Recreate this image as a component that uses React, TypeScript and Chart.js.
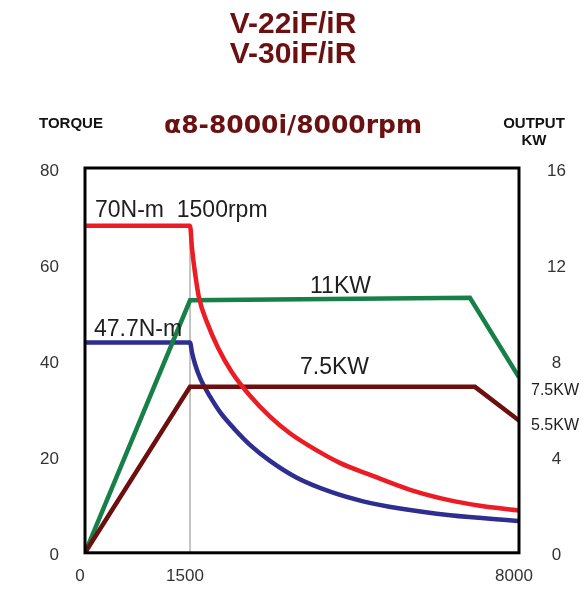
import React, { useEffect, useRef } from 'react';
import { Chart, registerables, LinearScale } from 'chart.js';

Chart.register(...registerables);

// ---------------- data ----------------
const TITLE_LINES = ['V-22iF/iR', 'V-30iF/iR'];
const SUBTITLE = 'α8-8000i/8000rpm';
const LEFT_AXIS_TITLE = 'TORQUE';
const RIGHT_AXIS_TITLE = ['OUTPUT', 'KW'];

const X_TICKS = [0, 1500, 8000];
const TORQUE_MAX = 80;
const TORQUE_STEP = 20;
const KW_MAX = 16;
const KW_STEP = 4;

// max torque (red)
const RED_RPM = [0, 1500, 1540, 1600, 1680, 1840, 2050, 2330, 2690, 3080, 3480, 3970, 4460, 5060, 5850, 6640, 7230, 8000];
const RED_TORQUE = [68, 68, 63.2, 58.1, 52.9, 47.8, 42.7, 37.5, 32.6, 28.3, 24.8, 21.5, 18.7, 16.2, 13.1, 10.9, 9.8, 8.8];

// continuous torque (blue)
const BLUE_RPM = [0, 1500, 1540, 1600, 1700, 1900, 2090, 2390, 2690, 3080, 3610, 4270, 4920, 5650, 6640, 8000];
const BLUE_TORQUE = [43.7, 43.7, 41.6, 39.2, 36.3, 32.4, 29.3, 25.6, 22.4, 19.1, 15.6, 12.7, 10.7, 9.2, 7.8, 6.6];

// output 11KW (green)
const GREEN_RPM = [0, 1500, 7030, 8000];
const GREEN_KW = [0, 10.5, 10.6, 7.3];

// output 7.5KW (maroon)
const MAROON_RPM = [0, 1500, 7130, 8000];
const MAROON_KW = [0, 6.9, 6.9, 5.5];

// base speed marker
const BASE_RPM = [1500, 1500];
const BASE_TORQUE = [0, 68];

const NOTE_TORQUE_MAX = '70N-m  1500rpm';
const NOTE_TORQUE_CONT = '47.7N-m';
const NOTE_KW_HIGH = '11KW';
const NOTE_KW_LOW = '7.5KW';
const NOTE_RIGHT = ['7.5KW', '5.5KW'];

// ---------------- segmented x scale ----------------
const SEG_VALUES = [0, 1500, 8000];
const SEG_FRACS = [0, 0.242, 1];

function valueToFrac(v: number): number {
  let i = 0;
  if (v >= SEG_VALUES[SEG_VALUES.length - 2]) i = SEG_VALUES.length - 2;
  else {
    while (i < SEG_VALUES.length - 2 && v > SEG_VALUES[i + 1]) i++;
  }
  const t = (v - SEG_VALUES[i]) / (SEG_VALUES[i + 1] - SEG_VALUES[i]);
  return SEG_FRACS[i] + t * (SEG_FRACS[i + 1] - SEG_FRACS[i]);
}
function fracToValue(f: number): number {
  let i = 0;
  if (f >= SEG_FRACS[SEG_FRACS.length - 2]) i = SEG_FRACS.length - 2;
  else {
    while (i < SEG_FRACS.length - 2 && f > SEG_FRACS[i + 1]) i++;
  }
  const t = (f - SEG_FRACS[i]) / (SEG_FRACS[i + 1] - SEG_FRACS[i]);
  return SEG_VALUES[i] + t * (SEG_VALUES[i + 1] - SEG_VALUES[i]);
}

class SegmentedScale extends LinearScale {
  static id = 'segmented';
  static defaults = LinearScale.defaults;
  getPixelForValue(value: any) {
    if (value === null || value === undefined || isNaN(value)) return NaN;
    return this.getPixelForDecimal(valueToFrac(value));
  }
  getValueForPixel(pixel: number) {
    return fracToValue(this.getDecimalForPixel(pixel));
  }
}
Chart.register(SegmentedScale as any);

// ---------------- styles ----------------
const FONT = '"Liberation Sans", Arial, sans-serif';
const TITLE_COLOR = '#6B1111';
const TEXT_COLOR = '#1e1e1e';

const pts = (xs: number[], ys: number[]) => xs.map((x, i) => ({ x, y: ys[i] }));

const framePlugin = {
  id: 'frame',
  afterDatasetsDraw(chart: any) {
    const { ctx, chartArea: a } = chart;
    ctx.save();
    ctx.strokeStyle = '#000';
    ctx.lineWidth = 3;
    ctx.strokeRect(a.left, a.top, a.right - a.left, a.bottom - a.top);
    ctx.restore();
  },
};

const textPlugin = {
  id: 'texts',
  afterDraw(chart: any) {
    const ctx = chart.ctx;
    ctx.save();
    ctx.textBaseline = 'alphabetic';
    ctx.textAlign = 'center';
    ctx.fillStyle = TITLE_COLOR;
    ctx.font = `bold 30px ${FONT}`;
    ctx.fillText(TITLE_LINES[0], 293, 33);
    ctx.fillText(TITLE_LINES[1], 293, 63);
    ctx.font = 'bold 25px "DejaVu Sans", sans-serif';
    ctx.fillText(SUBTITLE, 293, 133);

    ctx.fillStyle = '#111';
    ctx.font = `bold 15px ${FONT}`;
    ctx.fillText(LEFT_AXIS_TITLE, 71, 128);
    ctx.fillText(RIGHT_AXIS_TITLE[0], 534, 128);
    ctx.fillText(RIGHT_AXIS_TITLE[1], 534, 145);

    ctx.textAlign = 'left';
    ctx.fillStyle = TEXT_COLOR;
    ctx.font = `23px ${FONT}`;
    ctx.fillText(NOTE_TORQUE_MAX, 95, 217);
    ctx.fillText(NOTE_TORQUE_CONT, 94, 336);
    ctx.fillText(NOTE_KW_HIGH, 310, 293);
    ctx.fillText(NOTE_KW_LOW, 300, 374);

    ctx.font = `16px ${FONT}`;
    ctx.fillText(NOTE_RIGHT[0], 531, 395);
    ctx.fillText(NOTE_RIGHT[1], 531, 430);
    ctx.restore();
  },
};

export default function App() {
  const ref = useRef<HTMLCanvasElement | null>(null);

  useEffect(() => {
    if (!ref.current) return;
    const tickFont = { family: FONT, size: 17 };
    const chart = new Chart(ref.current, {
      type: 'line',
      data: {
        datasets: [
          {
            label: 'max torque',
            data: pts(RED_RPM, RED_TORQUE),
            borderColor: '#EC1C24',
            borderWidth: 4.5,
            pointRadius: 0,
            cubicInterpolationMode: 'monotone',
            yAxisID: 'y',
          },
          {
            label: '7.5KW',
            data: pts(MAROON_RPM, MAROON_KW),
            borderColor: '#6E0F0F',
            borderWidth: 4.5,
            pointRadius: 0,
            tension: 0,
            yAxisID: 'y1',
          },
          {
            label: '11KW',
            data: pts(GREEN_RPM, GREEN_KW),
            borderColor: '#178048',
            borderWidth: 4.5,
            pointRadius: 0,
            tension: 0,
            yAxisID: 'y1',
          },
          {
            label: 'cont torque',
            data: pts(BLUE_RPM, BLUE_TORQUE),
            borderColor: '#2D2E8F',
            borderWidth: 4.5,
            pointRadius: 0,
            cubicInterpolationMode: 'monotone',
            yAxisID: 'y',
          },
          {
            label: 'base',
            data: pts(BASE_RPM, BASE_TORQUE),
            borderColor: '#8a8a8a',
            borderWidth: 1,
            pointRadius: 0,
            tension: 0,
            yAxisID: 'y',
          },
        ],
      },
      options: {
        animation: false,
        responsive: false,
        devicePixelRatio: 1,
        layout: { padding: { top: 168, left: 0, right: 0, bottom: 0 } },
        plugins: { legend: { display: false }, tooltip: { enabled: false }, title: { display: false } },
        scales: {
          x: {
            type: 'segmented' as any,
            min: 0,
            max: 8000,
            grid: { display: false, drawTicks: false },
            border: { display: false },
            afterBuildTicks: (s: any) => {
              s.ticks = X_TICKS.map((v) => ({ value: v }));
            },
            afterFit: (s: any) => {
              s.height = 33;
            },
            ticks: {
              autoSkip: false,
              maxRotation: 0,
              padding: 13,
              labelOffset: -5,
              color: '#333',
              font: tickFont,
              callback: (v: any) => String(v),
            },
          },
          y: {
            type: 'linear',
            position: 'left',
            min: 0,
            max: TORQUE_MAX,
            grid: { display: false, drawTicks: false },
            border: { display: false },
            afterFit: (s: any) => {
              s.width = 85;
            },
            ticks: { stepSize: TORQUE_STEP, padding: 26, labelOffset: 3, color: '#333', font: tickFont },
          },
          y1: {
            type: 'linear',
            position: 'right',
            min: 0,
            max: KW_MAX,
            grid: { display: false, drawTicks: false },
            border: { display: false },
            afterFit: (s: any) => {
              s.width = 69;
            },
            ticks: {
              stepSize: KW_STEP,
              padding: 28,
              labelOffset: 3,
              crossAlign: 'center',
              color: '#333',
              font: tickFont,
            },
          },
        },
      } as any,
      plugins: [framePlugin, textPlugin],
    });
    return () => chart.destroy();
  }, []);

  return (
    <div style={{ position: 'absolute', left: 0, top: 0, width: 588, height: 591, background: '#fff' }}>
      <canvas ref={ref} width={588} height={591} />
    </div>
  );
}
